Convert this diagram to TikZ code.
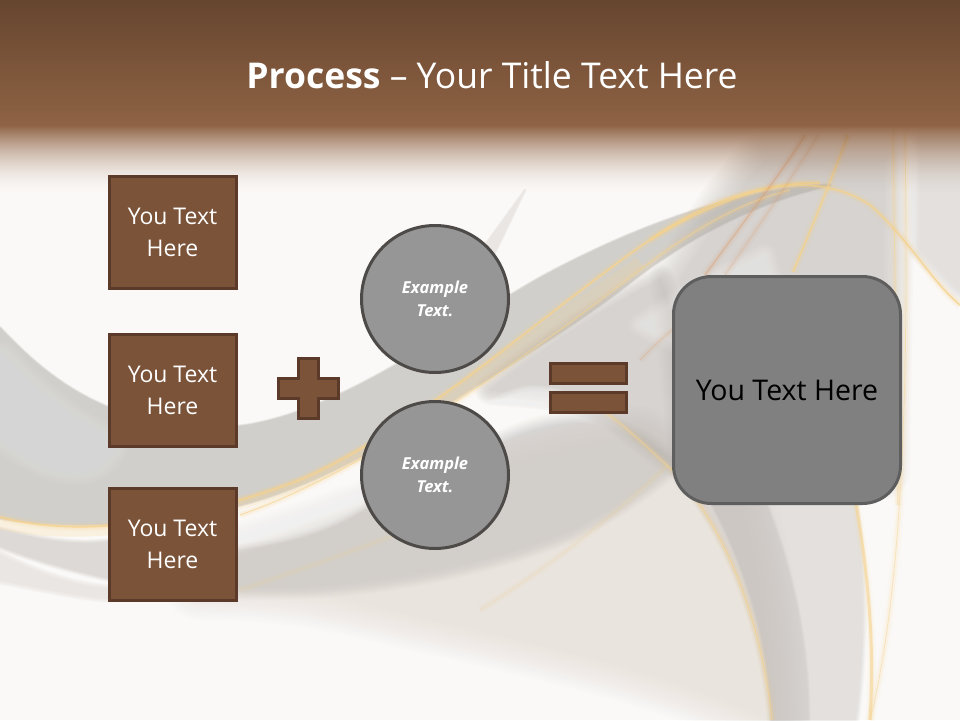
\documentclass[tikz,border=0pt]{standalone}
\usepackage{fontspec}
\setmainfont{Open Sans}
\definecolor{paper}{HTML}{FBF9F7}
\definecolor{headA}{HTML}{66452F}
\definecolor{headB}{HTML}{8F6344}
\definecolor{brownF}{HTML}{7B5339}
\definecolor{brownD}{HTML}{5B3A29}
\definecolor{swgray}{HTML}{B4B0AC}
\definecolor{beige}{HTML}{D8D0C6}
\definecolor{gold}{HTML}{F6D28C}
\definecolor{rust}{HTML}{DE9A66}
\definecolor{ringgray}{HTML}{4D4A48}
\tikzset{
 x=1pt,y=-1pt,
 brownbox/.style={draw=brownD,line width=3pt,fill=brownF,text=white,minimum width=127pt,minimum height=112pt,inner sep=0pt,align=center,font=\fontsize{23}{32}\selectfont},
 brownbar/.style={draw=brownD,line width=3pt,fill=brownF,minimum width=76pt,minimum height=20pt,inner sep=0pt},
 examplecircle/.style={circle,draw=ringgray,line width=3pt,fill=black!41,minimum size=147pt,inner sep=0pt,text=white,align=center,font=\fontsize{16.5}{23}\selectfont\bfseries\itshape},
 resultbox/.style={draw=black!63,line width=3pt,fill=black!50,rounded corners=38pt,minimum size=227pt,inner sep=0pt,text=black,font=\fontsize{28.5}{32}\selectfont},
}
% soft-edged fill: colour, total opacity, blur width, path
\newcommand{\softfill}[4]{%
 \pgfmathsetmacro{\layerop}{#2/14}%
 \foreach \k in {0,...,13}{%
   \pgfmathsetmacro{\lw}{#3*\k/13}%
   \begin{scope}[transparency group,opacity=\layerop]
   \path[draw=#1,fill=#1,line width=\lw pt,line join=round] #4;
   \end{scope}
 }%
}
\newcommand{\glowline}[4][gold]{%
 \draw[#1,line width=9pt,opacity=.09*#3,line cap=butt] #4;
 \draw[#1,line width=5pt,opacity=.18*#3,line cap=butt] #4;
 \draw[#1,line width=#2,opacity=.8*#3,line cap=butt] #4;
}
\begin{document}
\begin{tikzpicture}
\useasboundingbox (0,0) rectangle (960,720);
\fill[paper] (0,0) rectangle (960,720);
% warm lower fan
\softfill{beige}{.50}{70}{(200,570) .. controls (400,510) and (540,440) .. (640,440) -- (740,500) .. controls (760,560) and (770,640) .. (772,720) .. controls (650,665) and (520,640) .. (400,612) .. controls (340,598) and (290,585) .. (200,585) -- cycle}
% right gray arcs
\softfill{swgray}{.28}{10}{(672,470) .. controls (730,530) and (765,630) .. (772,720) -- (855,720) .. controls (865,640) and (865,560) .. (850,480) -- cycle}
\softfill{swgray}{.18}{6}{(760,490) .. controls (790,560) and (808,640) .. (808,720) -- (772,720) .. controls (770,640) and (745,560) .. (705,490) -- cycle}
% upper right
\softfill{swgray}{.62}{60}{(765,160) -- (885,160) -- (880,470) -- (700,470) -- (680,280) -- (725,210) -- cycle}
\softfill{swgray}{.25}{24}{(920,140) -- (960,140) -- (960,290) -- (920,250) -- cycle}
% central pool
\softfill{swgray}{.58}{30}{(490,390) .. controls (540,350) and (600,310) .. (660,280) -- (700,400) -- (672,462) -- (612,415) .. controls (570,392) and (530,395) .. (490,390) -- cycle}
% lower-left gray bands
\softfill{swgray}{.42}{8}{(0,530) .. controls (40,540) and (80,548) .. (120,540) -- (200,520) -- (200,590) .. controls (150,590) and (60,570) .. (0,546) -- cycle}
\softfill{swgray}{.40}{26}{(200,565) .. controls (320,535) and (390,500) .. (490,450) .. controls (550,415) and (610,410) .. (670,465) .. controls (640,490) and (610,510) .. (570,530) .. controls (470,570) and (340,595) .. (200,585) -- cycle}
\softfill{swgray}{.22}{10}{(0,555) .. controls (40,575) and (80,590) .. (130,590) -- (107,598) .. controls (70,595) and (30,585) .. (0,580) -- cycle}
% main wave
\softfill{swgray}{.72}{4}{(0,328) .. controls (40,370) and (100,427) .. (215,428) .. controls (320,428) and (440,335) .. (540,278) .. controls (610,240) and (720,190) .. (830,185) .. controls (740,205) and (670,250) .. (620,290) .. controls (560,335) and (500,370) .. (430,415) .. controls (370,455) and (300,490) .. (240,505) .. controls (170,525) and (70,530) .. (0,518) -- cycle}
\softfill{white}{.35}{40}{(0,360) .. controls (40,405) and (80,430) .. (110,445) .. controls (90,480) and (50,470) .. (0,430) -- cycle}
% highlights
\softfill{white}{.90}{14}{(200,532) .. controls (350,498) and (420,440) .. (510,397) .. controls (530,388) and (545,392) .. (560,396) .. controls (490,420) and (420,470) .. (360,505) .. controls (320,530) and (280,540) .. (200,548) -- cycle}
\softfill{white}{.42}{24}{(640,325) .. controls (680,298) and (720,275) .. (765,255) -- (770,275) .. controls (735,300) and (710,325) .. (690,350) -- cycle}
\softfill{swgray}{.22}{3}{(485,245) -- (525,190) -- (505,232) -- (472,298) -- (462,305) -- cycle}
% golden glow along the wave
\draw[gold,line width=12pt,opacity=.22,line cap=butt] (0,524) .. controls (80,540) and (180,528) .. (300,483) .. controls (400,440) and (500,360) .. (640,262);
% golden lines
\glowline{1.6pt}{1}{(0,517) .. controls (80,538) and (180,525) .. (300,480) .. controls (420,428) and (560,300) .. (650,240) .. controls (700,208) and (770,180) .. (820,183)}
\glowline{1pt}{.8}{(240,515) .. controls (340,480) and (470,400) .. (640,270) .. controls (680,240) and (730,205) .. (790,190)}
\glowline{1.5pt}{1}{(650,240) .. controls (720,190) and (810,165) .. (870,205) .. controls (910,240) and (930,280) .. (960,305)}
\glowline[rust]{1pt}{.6}{(705,275) .. controls (760,200) and (790,160) .. (805,135)}
\glowline[rust]{.6pt}{.4}{(725,275) .. controls (770,210) and (800,165) .. (818,135)}
\glowline{1.5pt}{1}{(793,272) .. controls (815,220) and (835,170) .. (848,135)}
\glowline{1pt}{.6}{(893,130) .. controls (895,280) and (897,400) .. (898,505)}
\glowline{.8pt}{.6}{(905,130) .. controls (907,300) and (910,560) .. (870,720)}
\glowline{1pt}{.8}{(605,412) .. controls (630,430) and (650,450) .. (672,470)}
\glowline{1pt}{.9}{(672,470) .. controls (720,520) and (760,610) .. (772,720)}
\glowline{.7pt}{.35}{(480,610) .. controls (560,560) and (620,510) .. (668,465)}
\glowline[rust]{.8pt}{.35}{(640,360) .. controls (650,350) and (660,340) .. (672,330)}
\glowline{3pt}{.7}{(852,480) .. controls (868,570) and (875,640) .. (870,720)}
\glowline{.6pt}{.35}{(240,590) .. controls (300,570) and (370,545) .. (420,525)}
% header
\shade[top color=headA,bottom color=headB] (0,0) rectangle (960,125.5);
\foreach \i in {0,...,69}{
  \pgfmathsetmacro{\op}{pow(1-\i/70,1.8)}
  \fill[headB,opacity=\op] (0,125+\i) rectangle (960,126+\i);
}
% title
\node[text=white,font=\fontsize{35.5}{42}\selectfont] (title) at (492,75) {\textbf{Process} – Your Title Text Here};
% left boxes
\node[brownbox] (b1) at (172.5,232) {You Text\\Here};
\node[brownbox] (b2) at (172.5,390) {You Text\\Here};
\node[brownbox] (b3) at (172.5,544) {You Text\\Here};
% plus
\draw[draw=brownD,line width=3pt,fill=brownF,miter limit=8]
 (298.5,358.5) -- (318,358.5) -- (318,378.5) -- (338,378.5) -- (338,398) -- (318,398) -- (318,418) -- (298.5,418) -- (298.5,398) -- (278.5,398) -- (278.5,378.5) -- (298.5,378.5) -- cycle;
% circles
\node[examplecircle] (c1) at (435,299) {Example\\Text.};
\node[examplecircle] (c2) at (435,475) {Example\\Text.};
% equals
\node[brownbar] (e1) at (588.5,373.5) {};
\node[brownbar] (e2) at (588.5,402.5) {};
% result
\node[resultbox] (r) at (787,390) {You Text Here};
\end{tikzpicture}
\end{document}
